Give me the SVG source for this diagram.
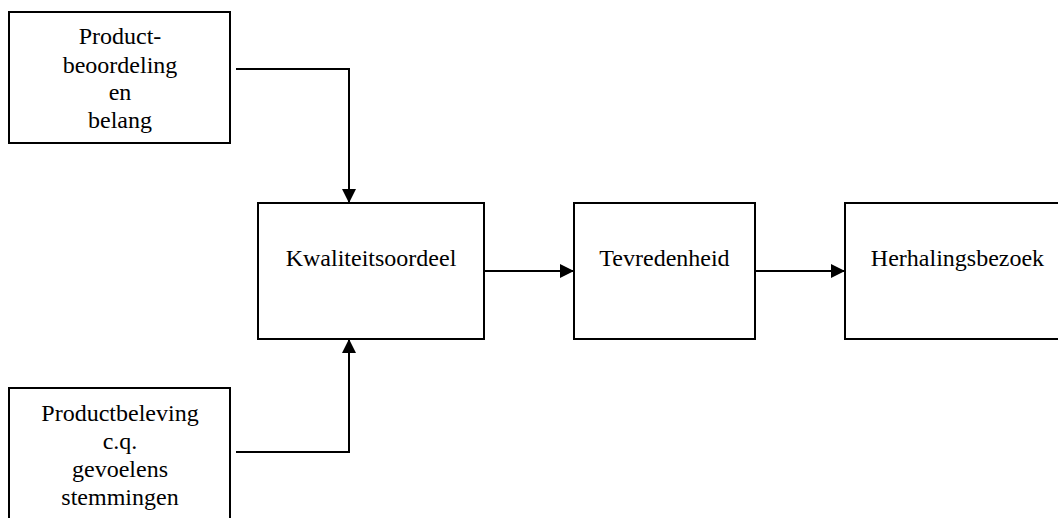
<svg xmlns="http://www.w3.org/2000/svg" width="1058" height="518" viewBox="0 0 1058 518">
  <style>
    .box { fill: #ffffff; stroke: #000000; stroke-width: 2; }
    .lbl { font-family: "Liberation Serif", "Times New Roman", serif; font-size: 24px; fill: #000000; text-anchor: middle; }
    .wire { fill: none; stroke: #000000; stroke-width: 2; }
  </style>
  <defs>
    <marker id="head" viewBox="0 0 14 14" markerWidth="14" markerHeight="14" refX="14" refY="7" orient="auto" markerUnits="userSpaceOnUse">
      <path d="M0,0 L14,7 L0,14 Z" fill="#000000"/>
    </marker>
  </defs>
  <rect width="1058" height="518" fill="#ffffff"/>

  <g id="node-productbeoordeling">
    <rect class="box" x="9" y="12" width="221" height="131"/>
    <text class="lbl" x="120" y="44">Product-</text>
    <text class="lbl" x="120" y="73">beoordeling</text>
    <text class="lbl" x="120" y="100">en</text>
    <text class="lbl" x="120" y="128">belang</text>
  </g>

  <g id="node-productbeleving">
    <rect class="box" x="9" y="388" width="221" height="140"/>
    <text class="lbl" x="120" y="421">Productbeleving</text>
    <text class="lbl" x="120" y="449">c.q.</text>
    <text class="lbl" x="120" y="477">gevoelens</text>
    <text class="lbl" x="120" y="505">stemmingen</text>
  </g>

  <g id="node-kwaliteitsoordeel">
    <rect class="box" x="258" y="203" width="226" height="136"/>
    <text class="lbl" x="371" y="266">Kwaliteitsoordeel</text>
  </g>

  <g id="node-tevredenheid">
    <rect class="box" x="574" y="203" width="181" height="136"/>
    <text class="lbl" x="664.5" y="266">Tevredenheid</text>
  </g>

  <g id="node-herhalingsbezoek">
    <rect class="box" x="845" y="203" width="230" height="136"/>
    <text class="lbl" x="957.5" y="266">Herhalingsbezoek</text>
  </g>

  <g id="connectors">
    <path class="wire" d="M236,69 H349 V203" marker-end="url(#head)"/>
    <path class="wire" d="M236,452 H349 V339" marker-end="url(#head)"/>
    <path class="wire" d="M484,271 H574" marker-end="url(#head)"/>
    <path class="wire" d="M755,271 H845" marker-end="url(#head)"/>
  </g>
</svg>
